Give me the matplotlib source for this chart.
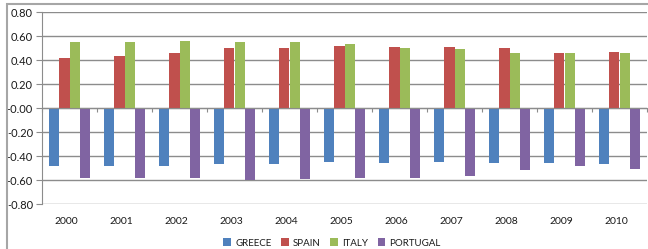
import matplotlib
matplotlib.use('Agg')
import matplotlib.pyplot as plt
import numpy as np
from matplotlib.patches import Rectangle
from matplotlib.ticker import FuncFormatter

years = ['2000', '2001', '2002', '2003', '2004', '2005', '2006', '2007', '2008', '2009', '2010']
greece = [-0.48, -0.48, -0.48, -0.47, -0.47, -0.45, -0.46, -0.45, -0.46, -0.46, -0.47]
spain = [0.42, 0.43, 0.46, 0.50, 0.50, 0.52, 0.51, 0.51, 0.50, 0.46, 0.47]
italy = [0.55, 0.55, 0.56, 0.55, 0.55, 0.53, 0.50, 0.49, 0.46, 0.46, 0.46]
portugal = [-0.58, -0.58, -0.58, -0.60, -0.59, -0.58, -0.58, -0.57, -0.52, -0.48, -0.51]

series = [('GREECE', greece, '#4F81BD'),
          ('SPAIN', spain, '#C0504D'),
          ('ITALY', italy, '#9BBB59'),
          ('PORTUGAL', portugal, '#8064A2')]

plt.rcParams['font.family'] = ['Lato', 'DejaVu Sans']
W, H = 648, 249
fig = plt.figure(figsize=(W / 100, H / 100), dpi=100)
ax = fig.add_axes([42 / W, (H - 204) / H, (647 - 42) / W, 192 / H])

x = np.arange(len(years))
w = 0.19
for i, (name, vals, col) in enumerate(series):
    ax.bar(x + (i - 1.5) * w, vals, w, color=col, label=name, zorder=3)

ax.set_xlim(-0.5, len(years) - 0.5)
ax.set_ylim(-0.8, 0.8)
ax.set_yticks(np.arange(-0.8, 0.81, 0.2))
ax.yaxis.set_major_formatter(FuncFormatter(lambda v, p: f'{v:.2f}'))
ax.yaxis.grid(True, color='#8c8c8c', lw=1.0, zorder=0)
ax.tick_params(axis='y', length=4, width=0.8, color='#8c8c8c', labelsize=8,
               labelcolor='#1a1a1a', pad=2.5)

# category axis on the zero line with tick marks between the years
for s in ['top', 'right']:
    ax.spines[s].set_visible(False)
ax.spines['left'].set_color('#8c8c8c')
ax.spines['bottom'].set_position(('data', 0))
ax.spines['bottom'].set_color('#8c8c8c')
ax.spines['bottom'].set_zorder(4)
ax.set_xticks(x)
ax.set_xticks(np.arange(-0.5, len(years), 1.0), minor=True)
ax.tick_params(axis='x', which='major', length=0, labelbottom=False)
ax.tick_params(axis='x', which='minor', length=3, width=0.8, color='#8c8c8c', direction='out')

sec = ax.secondary_xaxis(0)
sec.set_xticks(x - 0.05, years)
sec.tick_params(length=0, labelsize=7.5, labelcolor='#1a1a1a', pad=9)
sec.spines['bottom'].set_visible(False)

fig.legend(loc='center', bbox_to_anchor=(332 / W, (H - 243) / H), ncol=4, frameon=False,
           fontsize=7, handlelength=0.8, handleheight=0.8, handletextpad=0.4,
           columnspacing=1.0, labelcolor='#1a1a1a')

fig.patches.append(Rectangle((7 / W, -0.1), 1.0, (H - 4.5) / H + 0.1, transform=fig.transFigure,
                             fill=False, ec='#a6a6a6', lw=1.5))

fig.savefig('out.png', dpi=100)
